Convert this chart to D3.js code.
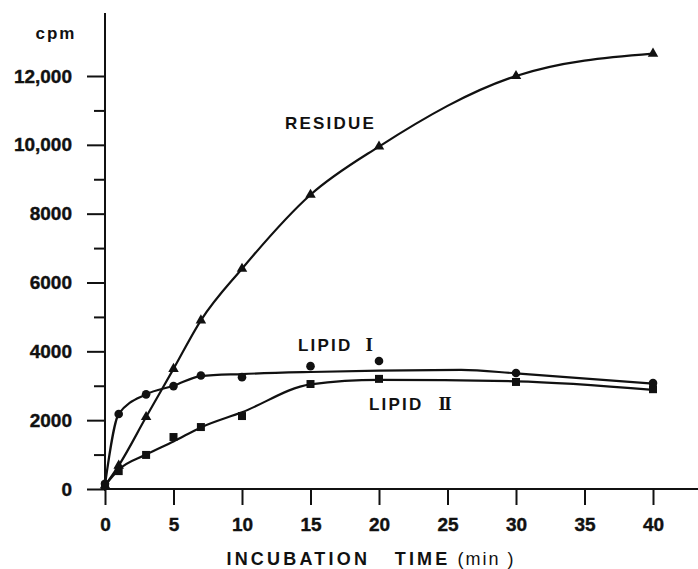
<!DOCTYPE html>
<html><head><meta charset="utf-8">
<script src="https://cdn.jsdelivr.net/npm/d3@7"></script>
<style>
html,body{margin:0;padding:0;background:#fff;}
svg text{font-family:"Liberation Sans",Arial,sans-serif;fill:#111;white-space:pre;}
</style></head>
<body>
<script>
// ---- data ----
const times = [0, 1, 3, 5, 7, 10, 15, 20, 30, 40];
const residue = [100, 680, 2090, 3490, 4900, 6400, 8550, 9950, 12000, 12650];
const lipid1 = [150, 2180, 2750, 2990, 3300, 3250, 3570, 3720, 3370, 3080];
const lipid2 = [100, 520, 990, 1510, 1800, 2120, 3050, 3200, 3110, 2900];
// hand-drawn fitted curves for the lipids
const lipid1CurveT = [0, 1, 3, 5, 7, 10, 15, 20, 26, 30, 40];
const lipid1CurveV = [120, 2180, 2750, 3000, 3280, 3340, 3400, 3440, 3460, 3360, 3060];
const lipid2CurveT = [0, 1, 3, 5, 7, 10, 15, 20, 30, 40];
const lipid2CurveV = [100, 560, 1000, 1380, 1790, 2230, 3040, 3170, 3130, 2880];
const xTicks = [0, 5, 10, 15, 20, 25, 30, 35, 40];
const yMajor = [0, 2000, 4000, 6000, 8000, 10000, 12000];
const yMajorLabels = ["0", "2000", "4000", "6000", "8000", "10,000", "12,000"];
const yMinor = [1000, 3000, 5000, 7000, 9000, 11000];

const W = 698, H = 569;
const svg = d3.select("body").append("svg").attr("width", W).attr("height", H);

const x = d3.scaleLinear().domain([0, 40]).range([105, 653]);
const y = d3.scaleLinear().domain([0, 12000]).range([489, 76]);

const ink = "#111";

// axis lines
svg.append("line").attr("x1", x(0)).attr("x2", W).attr("y1", y(0)).attr("y2", y(0))
  .attr("stroke", ink).attr("stroke-width", 2);
svg.append("line").attr("x1", x(0)).attr("x2", x(0)).attr("y1", y(13830)).attr("y2", y(0) + 2)
  .attr("stroke", ink).attr("stroke-width", 2);

// x axis
const xAxis = svg.append("g").attr("transform", `translate(0,${y(0)})`)
  .call(d3.axisBottom(x).tickValues(xTicks).tickSize(16).tickPadding(13).tickFormat(d3.format("d")));
xAxis.select(".domain").remove();
xAxis.selectAll(".tick line").attr("stroke", ink).attr("stroke-width", 2);
xAxis.selectAll(".tick text").attr("font-size", 19).attr("font-weight", "bold")
  .attr("font-family", "Liberation Sans, Arial, sans-serif").attr("fill", ink)
  .attr("stroke", ink).attr("stroke-width", 0.4);

// y axis major
const yAxis = svg.append("g").attr("transform", `translate(${x(0)},0)`)
  .call(d3.axisLeft(y).tickValues(yMajor).tickSize(18).tickPadding(15)
    .tickFormat((d, i) => yMajorLabels[i]));
yAxis.select(".domain").remove();
yAxis.selectAll(".tick line").attr("stroke", ink).attr("stroke-width", 2);
yAxis.selectAll(".tick text").attr("font-size", 19).attr("font-weight", "bold")
  .attr("font-family", "Liberation Sans, Arial, sans-serif").attr("fill", ink)
  .attr("stroke", ink).attr("stroke-width", 0.4);

// y axis minor
const yAxisMinor = svg.append("g").attr("transform", `translate(${x(0)},0)`)
  .call(d3.axisLeft(y).tickValues(yMinor).tickSize(11).tickFormat(""));
yAxisMinor.select(".domain").remove();
yAxisMinor.selectAll(".tick line").attr("stroke", ink).attr("stroke-width", 2);

// axis titles
svg.append("text").attr("x", 56).attr("y", 39).attr("text-anchor", "middle")
  .attr("font-size", 17).attr("font-weight", "bold").attr("letter-spacing", 2).text("cpm");

const xt = svg.append("text").attr("x", 371).attr("y", 565).attr("text-anchor", "middle")
  .attr("font-size", 18).attr("font-weight", "bold").attr("letter-spacing", 3.2);
xt.append("tspan").text("INCUBATION   TIME");
xt.append("tspan").attr("font-weight", "normal").attr("letter-spacing", 2).text(" (min )");

// lines
const line = d3.line().x(d => x(d[0])).y(d => y(d[1])).curve(d3.curveMonotoneX);
const resPts = times.map((t, i) => [t, residue[i]]);
const l1Pts = times.map((t, i) => [t, lipid1[i]]);
const l2Pts = times.map((t, i) => [t, lipid2[i]]);
const l1Curve = lipid1CurveT.map((t, i) => [t, lipid1CurveV[i]]);
const l2Curve = lipid2CurveT.map((t, i) => [t, lipid2CurveV[i]]);

[resPts, l1Curve, l2Curve].forEach(p => {
  svg.append("path").attr("d", line(p)).attr("fill", "none")
    .attr("stroke", ink).attr("stroke-width", 2.2).attr("stroke-linejoin", "round");
});

// markers
svg.append("g").selectAll("path").data(resPts).join("path")
  .attr("d", d3.symbol().type(d3.symbolTriangle).size(48))
  .attr("transform", d => `translate(${x(d[0])},${y(d[1])})`).attr("fill", ink);
svg.append("g").selectAll("circle").data(l1Pts).join("circle")
  .attr("cx", d => x(d[0])).attr("cy", d => y(d[1])).attr("r", 4.3).attr("fill", ink);
svg.append("g").selectAll("path").data(l2Pts).join("path")
  .attr("d", d3.symbol().type(d3.symbolSquare).size(64))
  .attr("transform", d => `translate(${x(d[0])},${y(d[1])})`).attr("fill", ink);

// series labels
svg.append("text").attr("x", 285).attr("y", 129).attr("font-size", 17).attr("font-weight", "bold")
  .attr("letter-spacing", 2.2).text("RESIDUE");
const t1 = svg.append("text").attr("x", 298).attr("y", 351).attr("font-size", 17).attr("font-weight", "bold")
  .attr("letter-spacing", 2.2);
t1.append("tspan").text("LIPID ");
t1.append("tspan").attr("font-family", "Liberation Serif, serif").attr("font-size", 19).attr("dx", 6).text("I");
const t2 = svg.append("text").attr("x", 369).attr("y", 410).attr("font-size", 17).attr("font-weight", "bold")
  .attr("letter-spacing", 2.2);
t2.append("tspan").text("LIPID ");
t2.append("tspan").attr("font-family", "Liberation Serif, serif").attr("font-size", 19).attr("dx", 8)
  .attr("letter-spacing", -1.5).text("II");
</script>
</body></html>
